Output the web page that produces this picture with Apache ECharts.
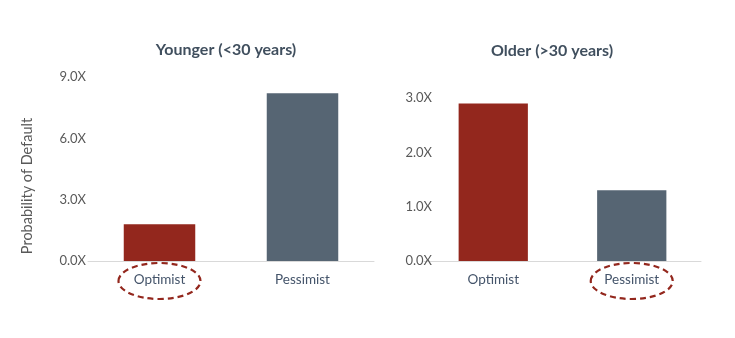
<!DOCTYPE html>
<html>
<head>
<meta charset="utf-8">
<script src="https://cdn.jsdelivr.net/npm/echarts@6/dist/echarts.min.js"></script>
<style>html,body{margin:0;padding:0;background:#fff}#c{width:735px;height:338px}</style>
</head>
<body>
<div id="c"></div>
<script>
const categories = ['Optimist', 'Pessimist'];
const youngerValues = [1.8, 8.2];
const olderValues = [2.9, 1.3];
const youngerTicks = { min: 0, max: 9, interval: 3 };
const olderTicks = { min: 0, max: 3, interval: 1 };
const titles = ['Younger (<30 years)', 'Older (>30 years)'];
const yName = 'Probability of Default';
const barColors = ['#93271D', '#566573'];
const highlighted = ['Optimist', 'Pessimist']; // circled label in each panel

const FONT = 'Lato';
const chart = echarts.init(document.getElementById('c'), null, { renderer: 'canvas' });

function yAxis(idx, t, withName, margin) {
  return {
    type: 'value', gridIndex: idx, min: t.min, max: t.max, interval: t.interval,
    name: withName ? yName : '', nameLocation: 'middle', nameRotate: 90, nameGap: 53,
    nameTextStyle: { color: '#595959', fontFamily: FONT, fontSize: 14.5, padding: [0, 34, 0, 0] },
    axisLine: { show: false }, axisTick: { show: false }, splitLine: { show: false },
    axisLabel: { color: '#595959', fontFamily: FONT, fontSize: 13, margin: margin,
      formatter: v => v.toFixed(1) + 'X' }
  };
}
function xAxis(idx) {
  return {
    type: 'category', gridIndex: idx, data: categories,
    axisLine: { lineStyle: { color: '#D9D9D9', width: 1 } },
    axisTick: { show: false },
    axisLabel: { color: '#44546A', fontFamily: FONT, fontSize: 13.5, margin: 12 }
  };
}
function dataItems(vals) {
  return vals.map((v, i) => ({ value: v, itemStyle: { color: barColors[i] } }));
}

chart.setOption({
  animation: false,
  title: [
    { text: titles[0], left: 221, top: 37, textAlign: 'center',
      textStyle: { fontFamily: FONT, fontSize: 16, fontWeight: 'bold', color: '#404F5E' } },
    { text: titles[1], left: 547, top: 38, textAlign: 'center',
      textStyle: { fontFamily: FONT, fontSize: 16, fontWeight: 'bold', color: '#404F5E' } }
  ],
  grid: [
    { left: 88, width: 286, top: 77, height: 184 },
    { left: 424, width: 277, top: 98, height: 163 }
  ],
  xAxis: [xAxis(0), xAxis(1)],
  yAxis: [yAxis(0, youngerTicks, true, 2), yAxis(1, olderTicks, false, -8)],
  series: [
    { type: 'bar', xAxisIndex: 0, yAxisIndex: 0, barWidth: '50%', data: dataItems(youngerValues) },
    { type: 'bar', xAxisIndex: 1, yAxisIndex: 1, barWidth: '50%', data: dataItems(olderValues) }
  ]
});

// dashed ellipses around highlighted category labels, positioned from the axes
const ellipses = highlighted.map((cat, i) => {
  const p = chart.convertToPixel({ xAxisIndex: i, yAxisIndex: i }, [cat, 0]);
  return {
    type: 'ellipse',
    shape: { cx: p[0], cy: p[1] + 20, rx: 41, ry: 18 },
    style: { fill: 'none', stroke: '#93271D', lineWidth: 2.2, lineDash: [6, 4] },
    z: 100
  };
});
chart.setOption({ graphic: ellipses });
</script>
</body>
</html>
